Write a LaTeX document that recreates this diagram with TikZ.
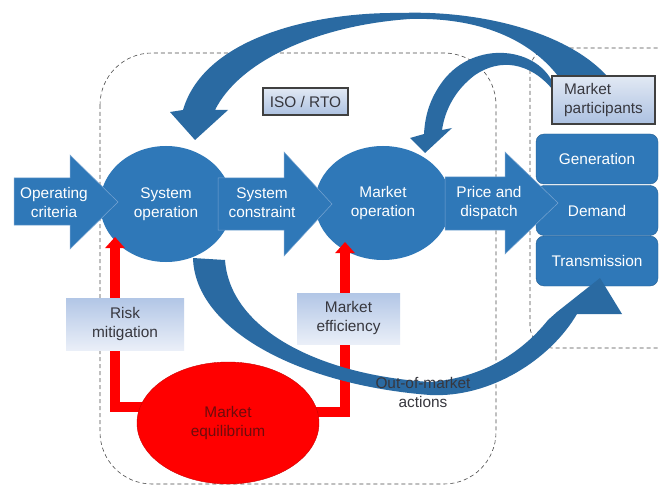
\documentclass[tikz,border=0pt]{standalone}
\usepackage{fontspec}
\setmainfont{Liberation Sans}
\usetikzlibrary{shapes.geometric,arrows.meta,positioning}
\definecolor{isoblue}{RGB}{47,120,184}
\definecolor{curveblue}{RGB}{42,106,162}
\definecolor{edgeblue}{RGB}{120,165,210}
\definecolor{notetop}{RGB}{178,198,230}
\definecolor{notebot}{RGB}{234,239,248}
\definecolor{headtop}{RGB}{226,233,244}
\definecolor{headbot}{RGB}{172,193,225}
\definecolor{txtgrey}{RGB}{55,55,62}
\definecolor{equiltxt}{RGB}{110,12,12}

\begin{document}
\begin{tikzpicture}[x = 1pt, y = -1pt,
  every node/.style = {font = \fontsize{15.4}{19}\selectfont, align = center},
  bubble/.style = {ellipse, fill = isoblue, text = white},
  blockarrow/.style = {fill = isoblue, draw = edgeblue, line width = .5pt},
  unitbox/.style = {rectangle, rounded corners = 8pt, fill = isoblue, draw = isoblue!80!black,
    text = white, minimum width = 122pt, minimum height = 50pt},
  notebox/.style = {rectangle, top color = notetop, bottom color = notebot, text = txtgrey, inner sep = 0pt},
  headbox/.style = {rectangle, top color = headtop, bottom color = headbot, draw = black!75,
    line width = 1.5pt, text = txtgrey, inner sep = 2pt},
  bigcurve/.style = {fill = curveblue},
  region/.style = {draw = black!70, dash pattern = on 4pt off 3pt, line width = .6pt},
  redline/.style = {draw = red, line width = 10pt, -{Triangle[width = 19pt, length = 11pt]}}]
	\useasboundingbox[fill = white] (0,0) rectangle (660,486);
	\draw[region, rounded corners = 52pt] (100,53) rectangle (496,484); %ISO / RTO area
	\draw[region, rounded corners = 22pt] (530,48) rectangle (690,348); %participants area
	\node[unitbox] (gen) at (597,159) {Generation};
	\node[unitbox] (dem) at (597,210.5) {Demand};
	\node[unitbox] (trans) at (597,261) {Transmission};
	\node[bubble, minimum width = 132pt, minimum height = 116pt] (sysop) at (166,204) {System\\operation};
	\node[bubble, minimum width = 136pt, minimum height = 114pt] (mktop) at (383,203) {Market\\operation};
	\path[blockarrow] (14,178) -- (70,178) -- (70,155) -- (118,202) -- (70,249) -- (70,225) -- (14,225) -- cycle;
	\node[text = white] (opcrit) at (54,202) {Operating\\criteria};
	\path[blockarrow] (218,178) -- (284,178) -- (284,152) -- (332,204) -- (284,256) -- (284,230) -- (218,230) -- cycle;
	\node[text = white] (syscon) at (262,203) {System\\constraint};
	\path[blockarrow] (445,177) -- (505,177) -- (505,152) -- (558,203) -- (505,254) -- (505,230) -- (445,230) -- cycle;
	\node[text = white] (pricedisp) at (489,203) {Price and\\dispatch};
	%participants back to system operation
	\path[bigcurve] (607,76) .. controls (565,30) and (475,10) .. (400,13) .. controls (320,12) and (205,35) .. (183,110)
		-- (170,112) -- (195,140) -- (228,110) -- (215,110)
		.. controls (240,60) and (320,25) .. (410,19) .. controls (480,17) and (530,40) .. (558,76) -- cycle;
	%participants back to market operation
	\path[bigcurve] (553,83) .. controls (535,45) and (470,40) .. (440,85) .. controls (430,100) and (425,115) .. (424,134)
		-- (410,138) -- (425,153) -- (452,128) -- (442,130)
		.. controls (445,110) and (455,90) .. (475,75) .. controls (500,58) and (530,62) .. (553,90) -- cycle;
	\node[headbox, minimum width = 85pt, minimum height = 27pt] (iso) at (305.5,101.5) {ISO / RTO};
	\node[headbox, minimum width = 103pt, minimum height = 48pt, align = left] (part) at (603.5,100) {Market\\participants};
	\coordinate (risktip) at (115,237);
	\coordinate (efftip) at (345,242);
	\draw[redline] (228,423) ++(-80,-16) -| (risktip);
	\draw[redline] (228,423) ++(80,-11) -| (efftip);
	\node[ellipse, fill = red, draw = red!80!black, text = equiltxt, minimum width = 182pt, minimum height = 122pt] (equil) at (228,423) {Market\\equilibrium};
	\node[notebox, minimum width = 118pt, minimum height = 52pt] (risk) at (125,324) {Risk\\mitigation};
	\node[notebox, minimum width = 103pt, minimum height = 51pt] (eff) at (348.5,318.5) {Market\\efficiency};
	%out-of-market actions to transmission
	\path[bigcurve] (193,258) .. controls (195,330) and (300,385) .. (430,395) .. controls (490,398) and (550,360) .. (577,314)
		-- (622,314) -- (600,278) -- (557,312) -- (548,320)
		.. controls (520,355) and (480,378) .. (430,382) .. controls (320,375) and (230,330) .. (225,260) -- cycle;
	\node[text = txtgrey] (oom) at (423,392) {Out-of-market\\actions};
\end{tikzpicture}
\end{document}
